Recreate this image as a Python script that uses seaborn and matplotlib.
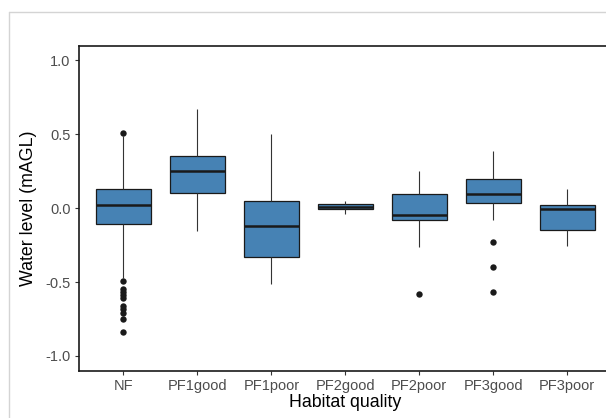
import seaborn as sns
import matplotlib.pyplot as plt
import pandas as pd
from matplotlib.lines import Line2D

# box statistics (water level, mAGL)
habitats = ["NF", "PF1good", "PF1poor", "PF2good", "PF2poor", "PF3good", "PF3poor"]
whisker_low = [-0.47, -0.155, -0.51, -0.037, -0.265, -0.08, -0.256]
q1 = [-0.109, 0.106, -0.333, -0.005, -0.079, 0.038, -0.145]
median = [0.022, 0.255, -0.12, 0.011, -0.045, 0.097, -0.005]
q3 = [0.133, 0.35, 0.049, 0.027, 0.099, 0.201, 0.025]
whisker_high = [0.49, 0.673, 0.504, 0.049, 0.25, 0.384, 0.133]

# outliers
outlier_habitat = ["NF"] * 11 + ["PF2poor"] + ["PF3good"] * 3
outlier_values = [0.51, -0.49, -0.55, -0.57, -0.59, -0.61, -0.66, -0.68, -0.71, -0.75, -0.835,
                  -0.583,
                  -0.228, -0.398, -0.567]

rows = []
for i, h in enumerate(habitats):
    for v in [whisker_low[i], q1[i], median[i], q3[i], whisker_high[i]]:
        rows.append({"habitat": h, "water_level": v})
box_df = pd.DataFrame(rows)
out_df = pd.DataFrame({"habitat": outlier_habitat, "water_level": outlier_values})

sns.set_style("white")
plt.rcParams['font.family'] = ['Liberation Sans', 'DejaVu Sans']

fig = plt.figure(figsize=(6.06, 4.18), dpi=100)
ax = fig.add_axes([79 / 606, 47.3 / 418, 532.6 / 606, 325 / 418])

sns.boxplot(data=box_df, x="habitat", y="water_level", order=habitats,
            whis=(0, 100), width=0.74, color="#4682B4", saturation=1,
            linecolor="#1a1a1a", linewidth=0.9, showcaps=False,
            medianprops=dict(linewidth=1.8, color="#1a1a1a"),
            whiskerprops=dict(linewidth=0.8, color="#333333"), ax=ax)
sns.stripplot(data=out_df, x="habitat", y="water_level", order=habitats,
              jitter=False, color="#1a1a1a", size=4.6, ax=ax)

ax.set_xlim(-0.6, 6.6)
ax.set_ylim(-1.1, 1.1)
ax.set_yticks([-1.0, -0.5, 0.0, 0.5, 1.0])
ax.set_yticklabels(["-1.0", "-0.5", "0.0", "0.5", "1.0"])
ax.tick_params(axis="both", which="major", length=3, width=0.8, color="#333333",
               labelcolor="#4d4d4d", labelsize=10.5, pad=3, left=True, bottom=True)
ax.set_xlabel("Habitat quality", fontsize=12.8, color="black", labelpad=1)
ax.set_ylabel("Water level (mAGL)", fontsize=12.8, color="black", labelpad=6)

for s in ax.spines.values():
    s.set_color("#1a1a1a")
    s.set_linewidth(1.2)

# light frame around the picture
bx = 9.3 / 606
by = 1 - 11.7 / 418
fig.add_artist(Line2D([bx, bx], [0, by], color="#d4d4d4", lw=1))
fig.add_artist(Line2D([bx, 1], [by, by], color="#d4d4d4", lw=1))

fig.savefig("out.png", dpi=100)
